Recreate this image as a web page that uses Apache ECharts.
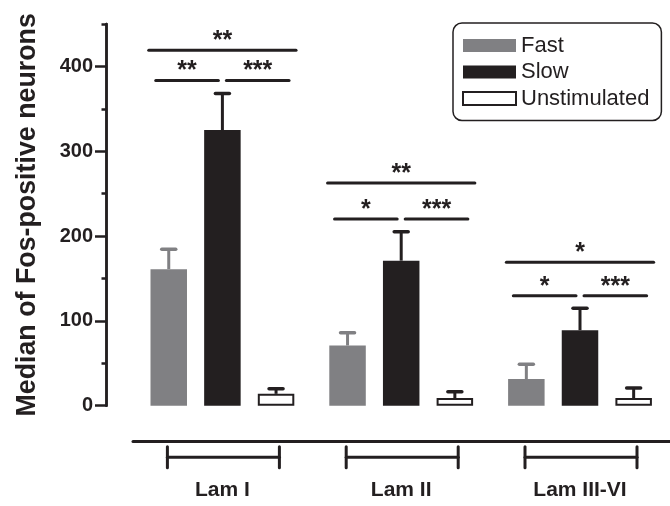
<!DOCTYPE html>
<html>
<head>
<meta charset="utf-8">
<script src="https://cdn.jsdelivr.net/npm/echarts@6/dist/echarts.min.js"></script>
<style>
html, body { margin: 0; padding: 0; background: #fff; }
#main { width: 670px; height: 506px; }
</style>
</head>
<body>
<div id="main"></div>
<script>
const categories = ['Lam I', 'Lam II', 'Lam III-VI'];
const fastValues = [161, 71, 31.5];
const slowValues = [325, 171, 89];
const unstimValues = [14, 9, 9];
const fastErrTop = [184.5, 86, 49];
const slowErrTop = [368, 205, 115];
const unstimErrTop = [20, 16.5, 21];
const yTicks = [0, 100, 200, 300, 400];
const yMinorTicks = [50, 150, 250, 350, 450];

// significance lines: group, from bar, to bar (0 fast, 1 slow, 2 unstim), height, stars
const sigGroup = [0, 0, 0, 1, 1, 1, 2, 2, 2];
const sigFrom = [0, 0, 1, 0, 0, 1, 0, 0, 1];
const sigTo = [2, 1, 2, 2, 1, 2, 2, 1, 2];
const sigY = [419, 383.5, 383.5, 262.5, 220, 220, 169, 129.5, 129.5];
const sigLabel = ['**', '**', '***', '**', '*', '***', '*', '*', '***'];

const INK = '#231f20';
const GRAY = '#808083';
const FONT = '"Liberation Sans", Arial, sans-serif';
const BAR_W = 36.5;
const BAR_GAP = 0.47;
const STEP = BAR_W * (1 + BAR_GAP);

function barX(api, cat, i) {
	return api.coord([cat, 0])[0] + (i - 1) * STEP;
}

function errSeries(name, vals, tops, idx, color) {
	return {
		type: 'custom',
		name: name + ' err',
		clip: false,
		silent: true,
		data: categories.map((c, k) => [k, vals[k], tops[k]]),
		encode: { x: 0, y: 2 },
		renderItem: function(params, api) {
			let k = api.value(0);
			let x = barX(api, k, idx);
			let y0 = api.coord([k, api.value(1)])[1];
			let y1 = api.coord([k, api.value(2)])[1];
			return {
				type: 'group',
				children: [
					{ type: 'line', shape: { x1: x, y1: y0, x2: x, y2: y1 }, style: { stroke: color, lineWidth: 3 } },
					{ type: 'line', shape: { x1: x - 7, y1: y1, x2: x + 7, y2: y1 }, style: { stroke: color, lineWidth: 3.5, lineCap: 'round' } }
				]
			};
		}
	};
}

let chart = echarts.init(document.getElementById('main'), null, { renderer: 'canvas' });

let option = {
	animation: false,
	backgroundColor: '#fff',
	grid: { left: 133, right: 0.6, top: 24, bottom: 100.3 },
	legend: {
		data: ['Fast', 'Slow', 'Unstimulated'],
		orient: 'vertical',
		left: 453,
		top: 23,
		itemWidth: 53,
		itemHeight: 13,
		itemGap: 4.5,
		icon: 'rect',
		padding: [11.5, 12, 11, 9],
		borderColor: INK,
		borderWidth: 1.5,
		borderRadius: 9,
		selectedMode: false,
		textStyle: { fontFamily: FONT, fontSize: 22, color: INK, lineHeight: 22 }
	},
	xAxis: {
		type: 'category',
		data: categories,
		offset: 36,
		axisLine: { show: true, onZero: false, lineStyle: { color: INK, width: 3 } },
		axisTick: { show: false },
		axisLabel: { fontFamily: FONT, fontWeight: 'bold', fontSize: 21, color: INK, margin: 38 }
	},
	yAxis: [{
		type: 'value',
		position: 'left',
		min: 0,
		max: 450,
		interval: 50,
		offset: 27,
		name: 'Median of Fos-positive neurons',
		nameLocation: 'middle',
		nameGap: 65,
		nameRotate: 90,
		nameTextStyle: { fontFamily: FONT, fontWeight: 'bold', fontSize: 26.8, color: INK },
		axisLine: { show: true, lineStyle: { color: INK, width: 2.5 } },
		axisTick: { show: true, customValues: yTicks, length: 11, lineStyle: { color: INK, width: 2.5 } },
		axisLabel: { customValues: yTicks, fontFamily: FONT, fontWeight: 'bold', fontSize: 20, color: INK, margin: 13 },
		splitLine: { show: false }
	}, {
		type: 'value',
		position: 'left',
		min: 0,
		max: 450,
		interval: 50,
		offset: 27,
		axisLine: { show: true, lineStyle: { color: INK, width: 2.5 } },
		axisTick: { show: true, customValues: yMinorTicks, length: 4.5, lineStyle: { color: INK, width: 2.5 } },
		axisLabel: { show: false },
		splitLine: { show: false }
	}],
	series: [{
			name: 'Fast',
			type: 'bar',
			data: fastValues,
			barWidth: BAR_W,
			barGap: (BAR_GAP * 100) + '%',
			itemStyle: { color: GRAY }
		},
		{
			name: 'Slow',
			type: 'bar',
			data: slowValues,
			barWidth: BAR_W,
			barGap: (BAR_GAP * 100) + '%',
			itemStyle: { color: INK }
		},
		{
			name: 'Unstimulated',
			type: 'bar',
			data: unstimValues,
			barWidth: BAR_W,
			barGap: (BAR_GAP * 100) + '%',
			itemStyle: { color: '#fff', borderColor: INK, borderWidth: 2 }
		},
		errSeries('Fast', fastValues, fastErrTop, 0, GRAY),
		errSeries('Slow', slowValues, slowErrTop, 1, INK),
		errSeries('Unstimulated', unstimValues, unstimErrTop, 2, INK),
		{
			// significance lines with stars
			type: 'custom',
			clip: false,
			silent: true,
			data: sigY.map((y, k) => [sigGroup[k], y]),
			encode: { x: 0, y: 1 },
			renderItem: function(params, api) {
				let k = params.dataIndex;
				let g = api.value(0);
				let y = api.coord([g, api.value(1)])[1];
				let from = sigFrom[k], to = sigTo[k];
				let wide = to - from === 2;
				let x1 = barX(api, g, from) + (from === 1 ? 4 : (wide ? -20 : -13));
				let x2 = barX(api, g, to) + (to === 1 ? -4 : (wide ? 20 : 13));
				return {
					type: 'group',
					children: [
						{ type: 'line', shape: { x1: x1, y1: y, x2: x2, y2: y }, style: { stroke: INK, lineWidth: 3, lineCap: 'round' } },
						{ type: 'text', style: { text: sigLabel[k], x: (x1 + x2) / 2, y: y - 9, align: 'center', verticalAlign: 'middle', font: 'bold 25px ' + FONT, fill: INK } }
					]
				};
			}
		},
		{
			// group brackets under the axis line
			type: 'custom',
			clip: false,
			silent: true,
			data: categories.map((c, k) => [k, 0]),
			encode: { x: 0, y: 1 },
			renderItem: function(params, api) {
				let p = api.coord([api.value(0), 0]);
				let y = p[1] + 51.6;
				let cx = p[0] + 1;
				let st = { stroke: INK, lineWidth: 3, lineCap: 'round' };
				return {
					type: 'group',
					children: [
						{ type: 'line', shape: { x1: cx - 56, y1: y, x2: cx + 56, y2: y }, style: st },
						{ type: 'line', shape: { x1: cx - 56, y1: y - 10.5, x2: cx - 56, y2: y + 10.5 }, style: st },
						{ type: 'line', shape: { x1: cx + 56, y1: y - 10.5, x2: cx + 56, y2: y + 10.5 }, style: st }
					]
				};
			}
		}
	]
};

chart.setOption(option);
</script>
</body>
</html>
